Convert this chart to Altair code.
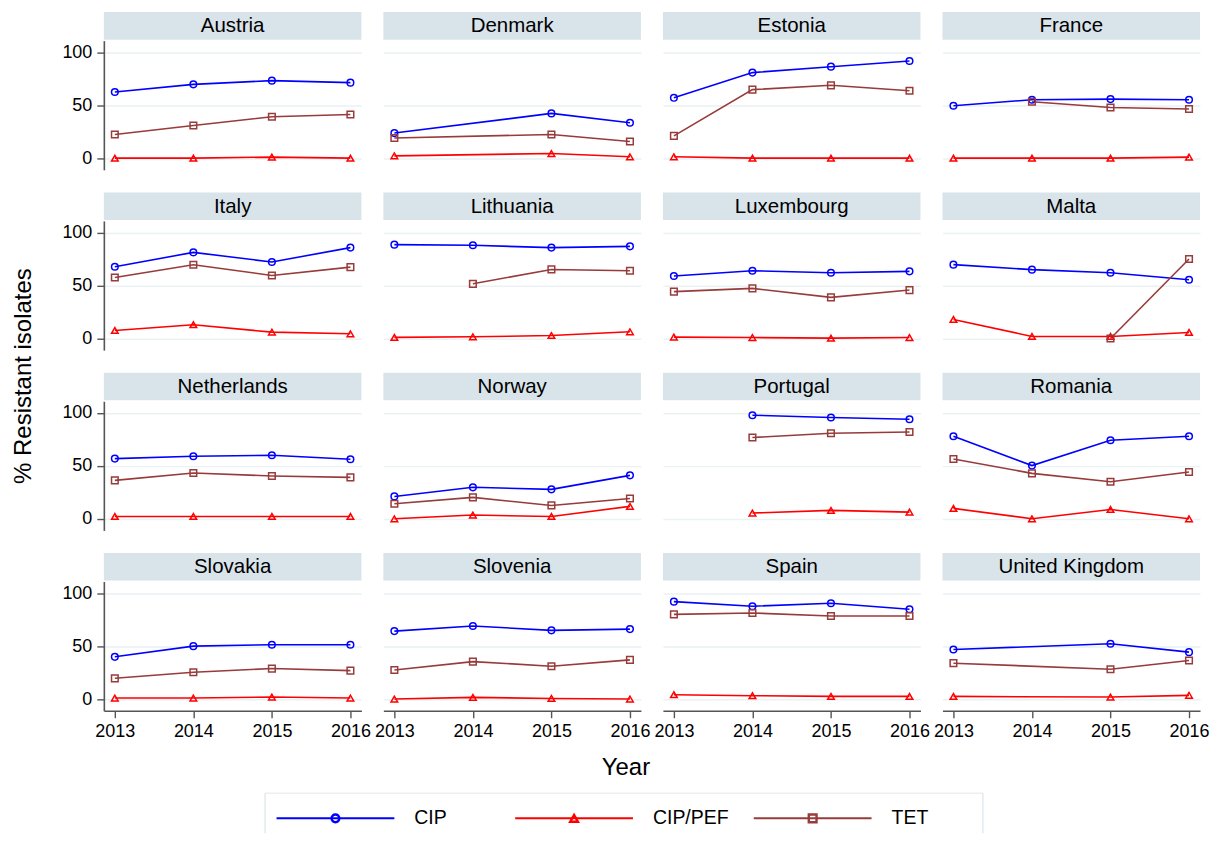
import altair as alt
import pandas as pd

FONT = "Liberation Sans"

COUNTRIES = ["Austria", "Denmark", "Estonia", "France",
             "Italy", "Lithuania", "Luxembourg", "Malta",
             "Netherlands", "Norway", "Portugal", "Romania",
             "Slovakia", "Slovenia", "Spain", "United Kingdom"]
YEARS = [2013, 2014, 2015, 2016]
SERIES = ["CIP", "CIP/PEF", "TET"]

# values per country for 2013..2016 (None = not reported)
CIP = [
    [62.5, 69.7, 73.2, 71.3], [23.7, None, 42.3, 33.4], [57.0, 80.8, 86.4, 91.8], [49.5, 55.2, 55.8, 55.2],
    [67.7, 81.3, 72.2, 85.8], [88.6, 88.0, 85.8, 87.0], [59.0, 64.0, 62.1, 63.4], [69.7, 65.0, 62.1, 55.5],
    [56.8, 59.0, 60.0, 56.2], [21.1, 29.7, 27.8, 41.0], [None, 97.8, 95.6, 94.0], [77.9, 50.2, 74.1, 77.9],
    [39.9, 50.0, 51.3, 51.3], [64.2, 69.0, 64.9, 66.1], [92.0, 87.7, 90.5, 84.8], [46.8, None, 52.2, 44.3],
]
CIP_PEF = [
    [0.0, 0.0, 1.0, 0.0], [2.2, None, 4.4, 1.3], [1.3, 0.0, 0.0, 0.0], [0.0, 0.0, 0.0, 1.0],
    [7.6, 13.0, 6.0, 4.4], [1.0, 1.6, 2.8, 6.3], [1.3, 0.9, 0.3, 0.9], [18.0, 1.9, 1.9, 5.7],
    [2.2, 2.2, 2.2, 2.2], [0.0, 3.5, 2.2, 11.7], [None, 5.4, 7.9, 6.3], [9.8, 0.0, 8.8, 0.0],
    [1.0, 1.0, 1.9, 1.0], [0.0, 1.6, 0.6, 0.0], [4.1, 3.2, 2.5, 2.5], [2.5, None, 1.9, 3.5],
]
TET = [
    [22.4, 30.9, 39.1, 41.3], [19.0, None, 22.4, 15.8], [21.0, 64.7, 68.8, 63.7], [None, 53.3, 47.9, 46.4],
    [57.6, 69.6, 59.5, 67.4], [None, 51.6, 65.2, 63.9], [44.2, 47.3, 38.8, 45.7], [None, None, 0.0, 75.0],
    [36.3, 43.2, 40.4, 39.1], [14.2, 20.2, 12.6, 19.2], [None, 76.7, 80.8, 82.0], [56.5, 42.9, 35.0, 44.2],
    [19.6, 25.3, 28.8, 26.9], [27.5, 35.4, 31.0, 37.0], [80.0, 81.3, 78.5, 78.5], [33.9, None, 28.2, 36.4],
]

rows = []
for s_name, table in zip(SERIES, [CIP, CIP_PEF, TET]):
    for c, vals in zip(COUNTRIES, table):
        for y, v in zip(YEARS, vals):
            if v is not None:
                rows.append({"country": c, "series": s_name, "year": y, "value": v})
df = pd.DataFrame(rows)

color_scale = alt.Scale(domain=SERIES, range=["#0000FF", "#FF0000", "#973B3B"])
shape_scale = alt.Scale(domain=SERIES, range=["circle", "triangle-up", "square"])

PW, PH = 258, 129.4
STRIP = "#D9E4EA"
AXC = "#555555"


def panel(i, c):
    r, col = divmod(i, 4)
    d = df[df.country == c]
    if r == 3:
        xaxis = alt.Axis(values=YEARS, format="d", labelFlush=False, tickSize=7, labelPadding=5,
                         grid=False, title=None, domainColor=AXC, tickColor=AXC, domainWidth=1.6,
                         tickWidth=1.4)
    else:
        xaxis = None
    if col == 0:
        yaxis = alt.Axis(values=[0, 50, 100], grid=True, title=None, tickSize=7, labelPadding=5,
                         domainColor=AXC, tickColor=AXC, domainWidth=1.6, tickWidth=1.4)
    else:
        yaxis = alt.Axis(values=[0, 50, 100], grid=True, title=None, labels=False, ticks=False,
                         domain=False)
    base = alt.Chart(d).encode(
        x=alt.X("year:Q", scale=alt.Scale(domain=[2012.86, 2016.14], nice=False, zero=False), axis=xaxis),
        y=alt.Y("value:Q", scale=alt.Scale(domain=[-11, 111], nice=False), axis=yaxis),
        color=alt.Color("series:N", scale=color_scale, legend=None),
    )
    lines = base.mark_line(strokeWidth=1.6)
    pts = base.mark_point(filled=False, size=44, strokeWidth=1.5, opacity=1).encode(
        shape=alt.Shape("series:N", scale=shape_scale, legend=None))
    lab = pd.DataFrame({"country": [c]})
    strip = alt.Chart(lab).mark_rect(color=STRIP).encode(
        x=alt.value(0), x2=alt.value(PW), y=alt.value(-28.6), y2=alt.value(-1))
    title = alt.Chart(lab).mark_text(fontSize=20.5, color="black", baseline="middle", align="center").encode(
        text="country:N", x=alt.value(PW / 2), y=alt.value(-14.4))
    return alt.layer(strip, title, lines, pts).properties(width=PW, height=PH)


grid = alt.concat(*[panel(i, c) for i, c in enumerate(COUNTRIES)], columns=4,
                  spacing={"row": 50.6, "column": 22}, bounds="flush")

ytitle = alt.Chart(pd.DataFrame({"t": ["% Resistant isolates"]})).mark_text(
    angle=270, fontSize=24, color="black", baseline="middle", align="center").encode(
    text="t:N", x=alt.value(16), y=alt.value(336)).properties(width=53, height=620)

main = alt.hconcat(ytitle, grid, spacing=0)

year_chart = alt.Chart(pd.DataFrame({"t": ["Year"]})).mark_text(
    fontSize=24, color="black", baseline="middle", align="center").encode(
    text="t:N", x=alt.value(619), y=alt.value(27)).properties(width=1190, height=51)

leg_df = pd.DataFrame({"series": SERIES})
lx = alt.X("series:N", scale=alt.Scale(type="point", domain=SERIES, range=[328, 806], padding=0), axis=None)
box = alt.Chart(pd.DataFrame({"b": [1]})).mark_rect(fill="white", stroke="#E3EAED", strokeWidth=1.5, clip=True).encode(
    x=alt.value(257.5), x2=alt.value(976.5), y=alt.value(0.5), y2=alt.value(90))
leg_rule = alt.Chart(leg_df).mark_rule(strokeWidth=2, xOffset=-59, x2Offset=59).encode(
    x=lx, x2=alt.X2("series"), y=alt.value(26),
    color=alt.Color("series:N", scale=color_scale, legend=None))
leg_pt = alt.Chart(leg_df).mark_point(filled=False, size=60, strokeWidth=2.4, opacity=1).encode(
    x=lx, y=alt.value(26),
    color=alt.Color("series:N", scale=color_scale, legend=None),
    shape=alt.Shape("series:N", scale=shape_scale, legend=None))
leg_txt = alt.Chart(leg_df).mark_text(align="left", dx=79, fontSize=19.5, color="black", baseline="middle").encode(
    x=lx, y=alt.value(26), text="series:N")
legend_chart = alt.layer(box, leg_rule, leg_pt, leg_txt).properties(width=1190, height=41)

chart = alt.vconcat(main, year_chart, legend_chart, spacing=0).properties(
    padding={"top": 3, "left": 0, "right": 0, "bottom": 0}
).configure(font=FONT).configure_view(stroke=None).configure_axis(
    labelFont=FONT, labelFontSize=18, labelColor="black", gridColor="#EAF2F3", gridWidth=1.5
)

chart.save("out.html", embed_options={"renderer": "svg", "actions": False})
